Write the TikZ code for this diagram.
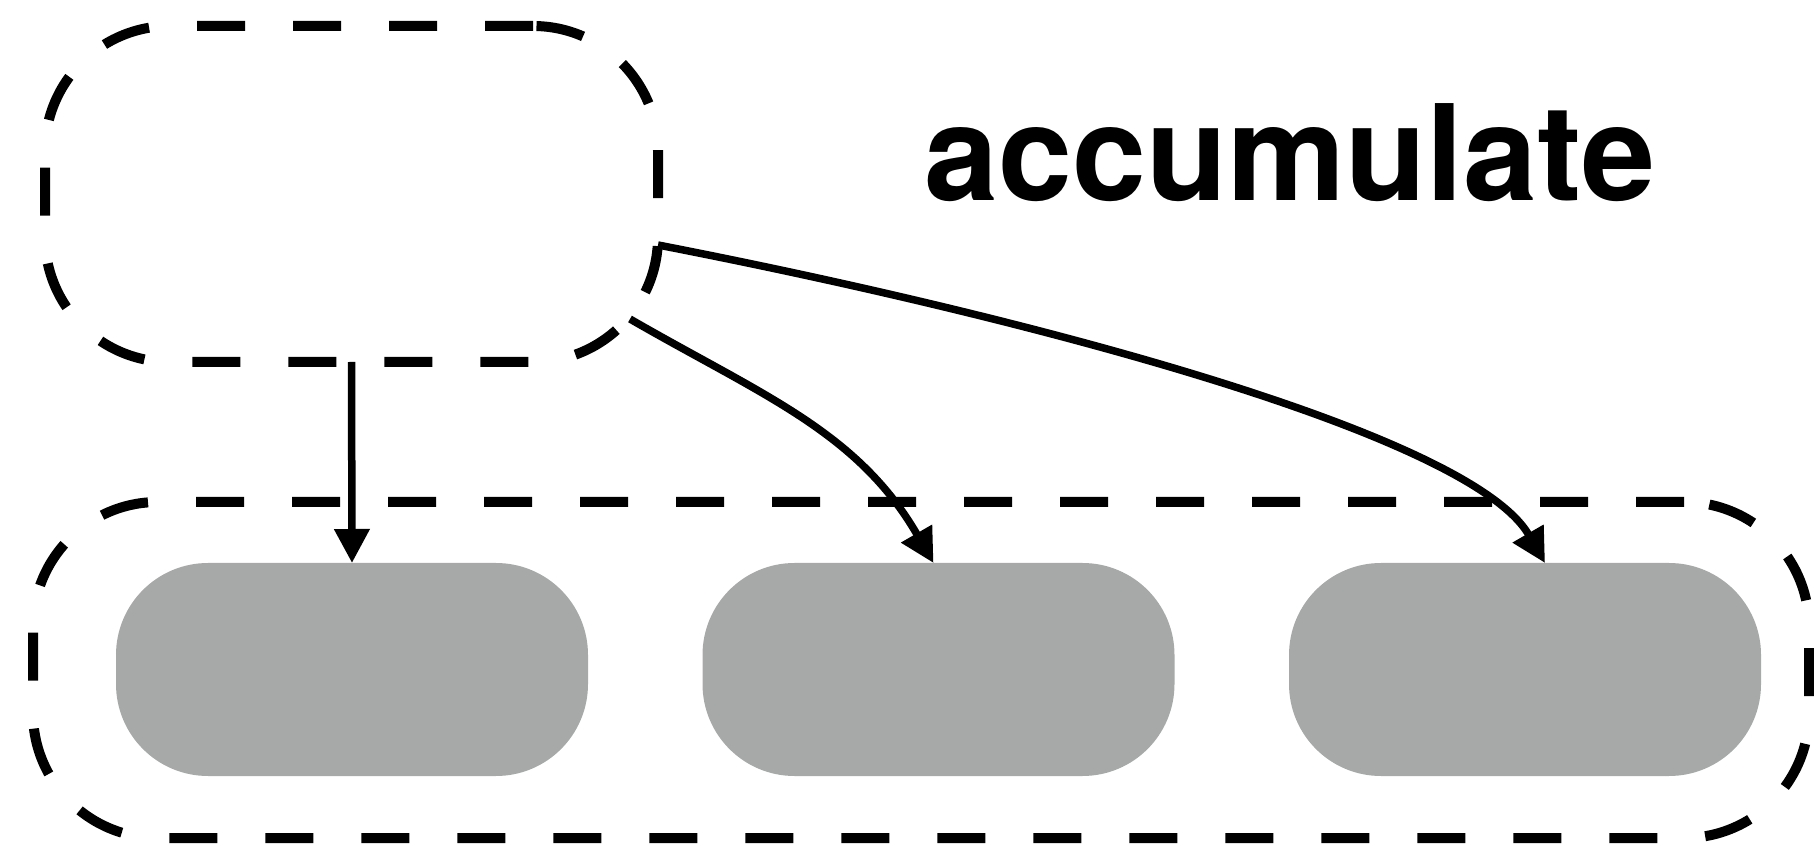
\documentclass[tikz,border=0pt]{standalone}
\usepackage{fontspec}
\newfontfamily\headfont{TeX Gyre Heros}
\usepackage{xcolor}
\usetikzlibrary{arrows.meta}
\definecolor{boxgray}{RGB}{166,169,168}

\begin{document}
\begin{tikzpicture}
  [x=1pt,y=1pt,
   dashbox/.style={draw,line width=10pt,dash pattern=on 48pt off 48pt,rounded corners=125pt,inner sep=0pt,outer sep=0pt},
   graybox/.style={fill=boxgray,rounded corners=92pt,minimum width=472pt,minimum height=213pt,inner sep=0pt,outer sep=0pt},
   link/.style={line width=7.5pt,-{Triangle[length=34pt,width=34pt]}}]
  \useasboundingbox (0,0) rectangle (1814,846);
  \node[dashbox,minimum width=613pt,minimum height=336pt] (acc) at (351.5,652) {};
  \node[dashbox,minimum width=1776pt,minimum height=336pt] (group) at (921,176) {};
  \node[graybox] (b1) at (352,176.5) {};
  \node[graybox] (b2) at (938.5,176.5) {};
  \node[graybox] (b3) at (1525,176.5) {};
  \node[anchor=base west,inner sep=0pt,font=\headfont\bfseries\fontsize{133}{140}\selectfont] (title) at (924,645) {accumulate};
  \coordinate (s2) at (630,527);
  \coordinate (s3) at (658,601);
  \draw[link] (acc.south) -- (b1.north);
  \draw[link] (s2) to[out=-30,in=120] ([xshift=-5pt]b2.north);
  \draw[link] (s3) to[out=-11,in=120,out distance=370pt,in distance=150pt] ([xshift=20pt]b3.north);
\end{tikzpicture}
\end{document}
